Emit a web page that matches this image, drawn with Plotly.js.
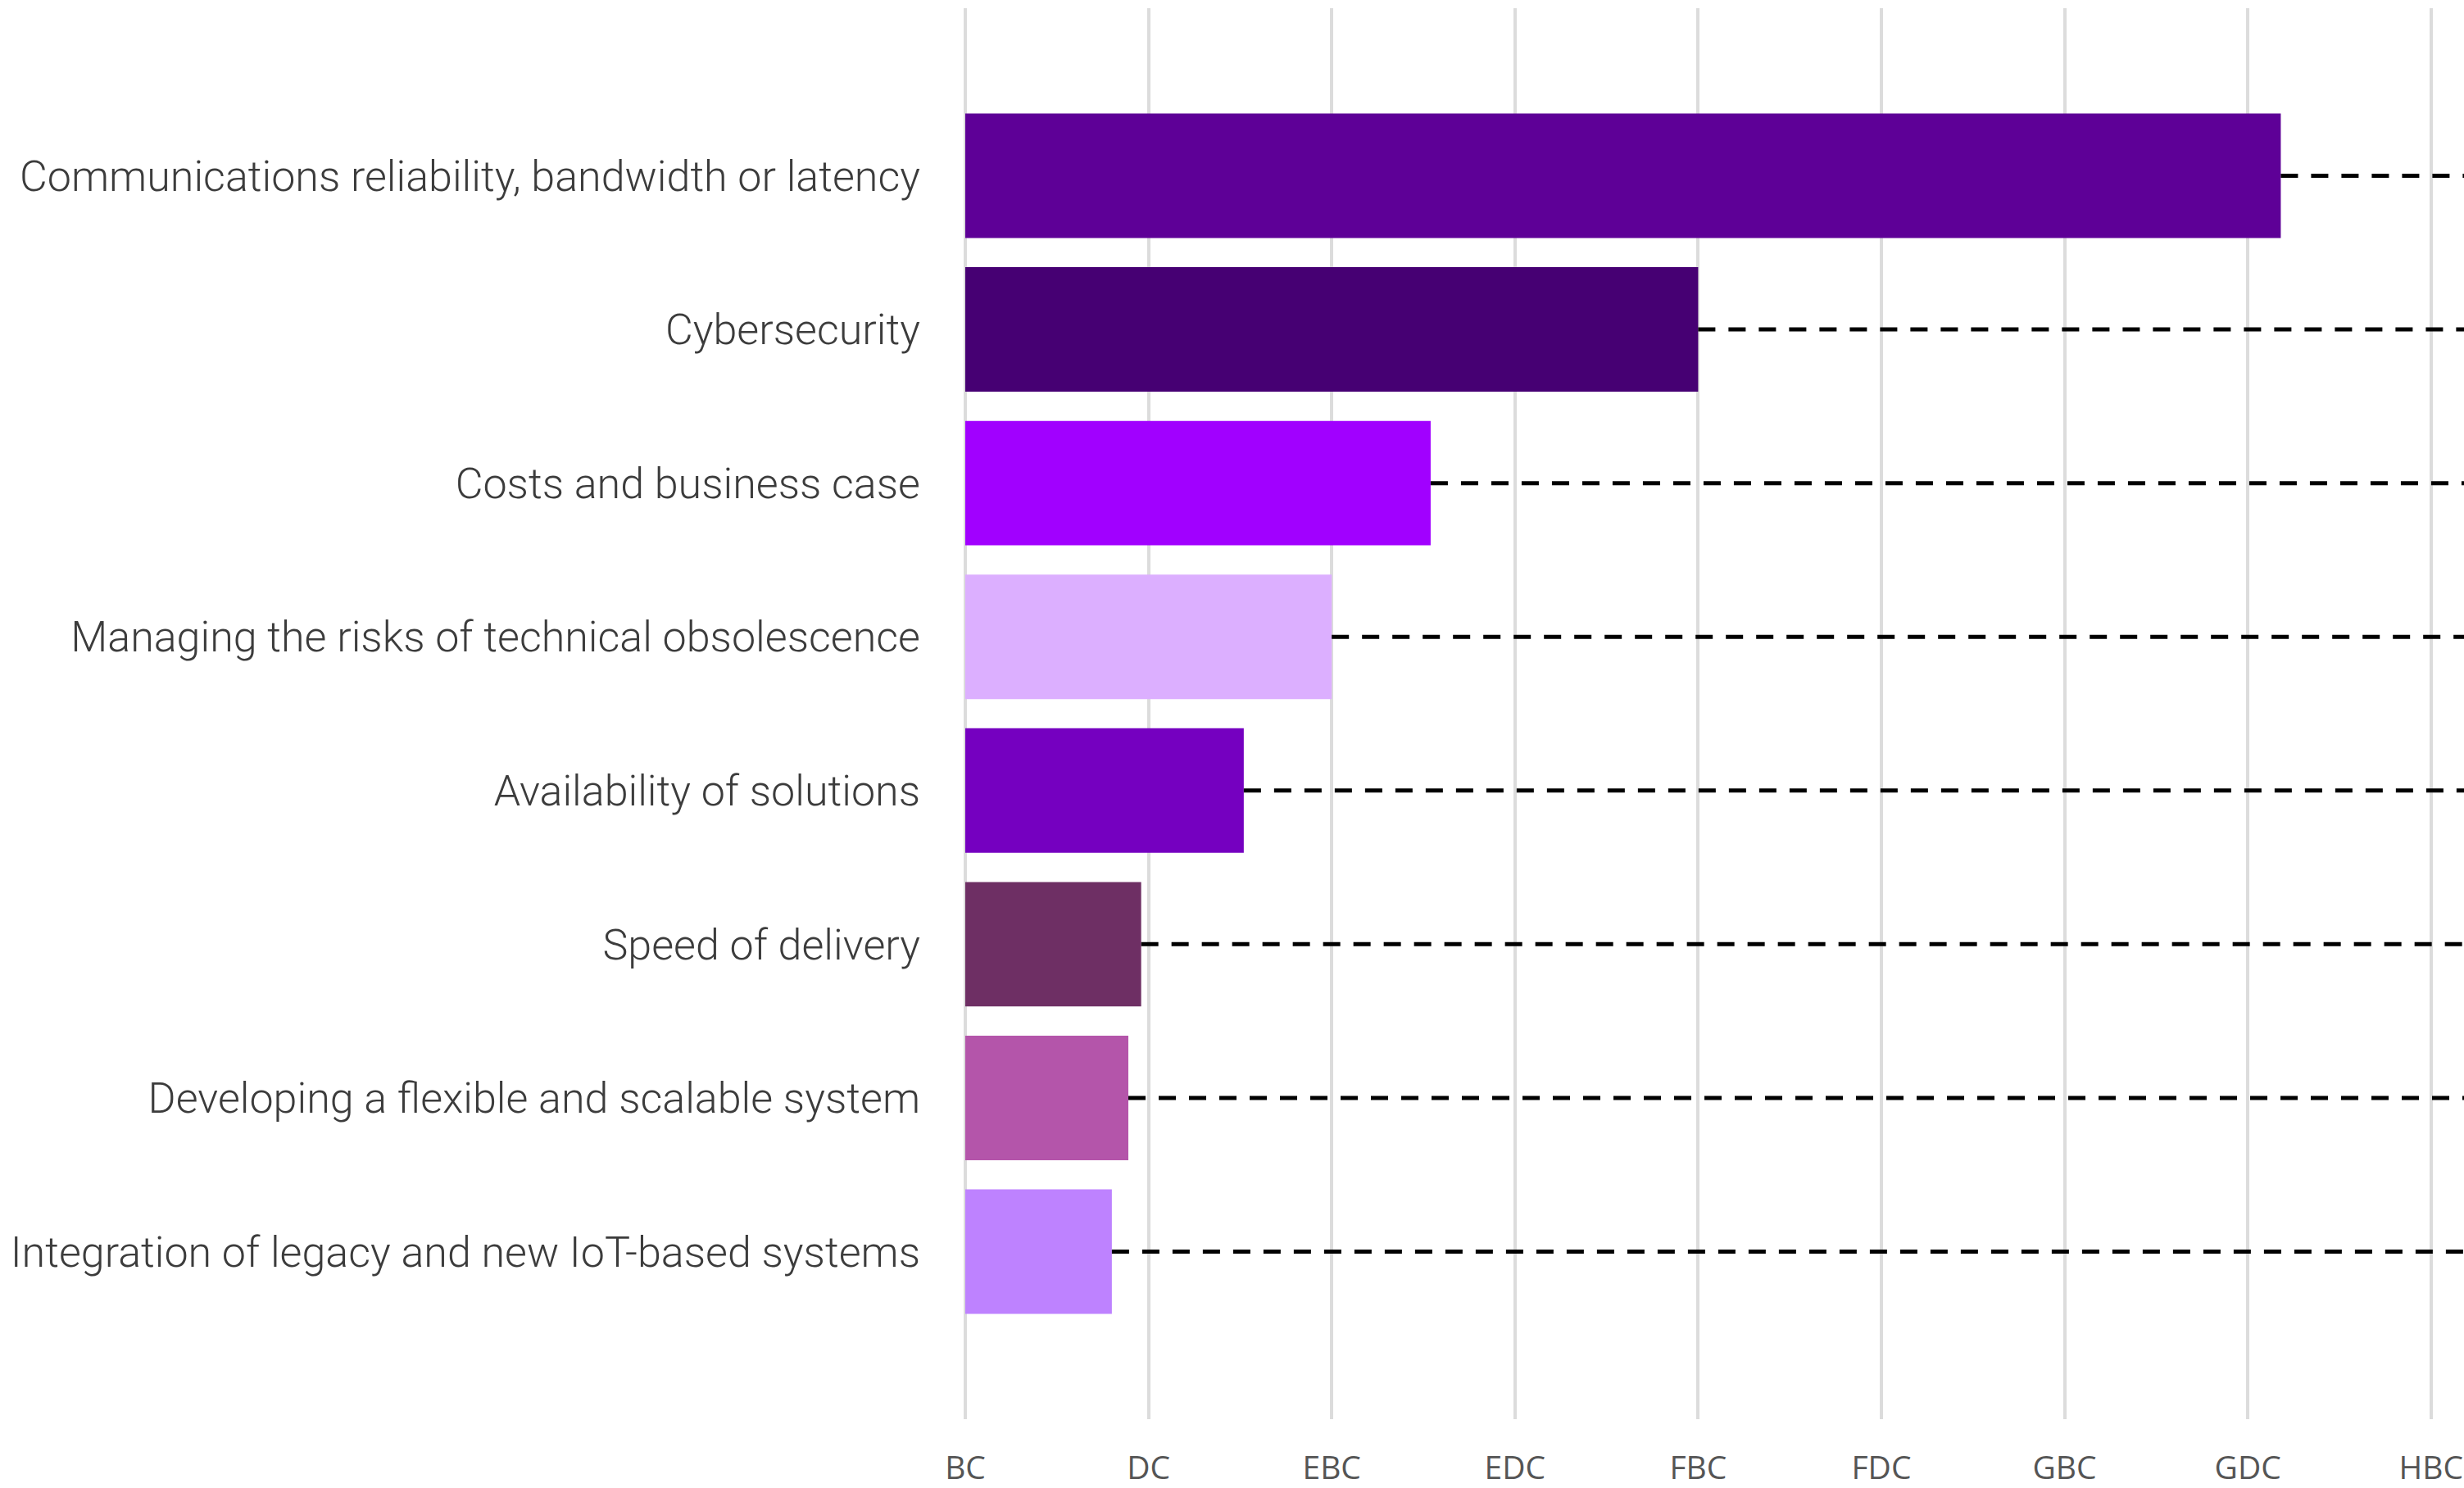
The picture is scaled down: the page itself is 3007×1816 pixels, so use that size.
<!DOCTYPE html>
<html>
<head>
<meta charset="utf-8">
<script src="https://cdn.plot.ly/plotly-3.0.1.min.js"></script>
<style>
  html, body { margin: 0; padding: 0; background: #ffffff; }
  #chart { width: 3007px; height: 1816px; }
</style>
</head>
<body>
<div id="chart"></div>
<script>
const categories = [
  "Communications reliability, bandwidth or latency",
  "Cybersecurity",
  "Costs and business case",
  "Managing the risks of technical obsolescence",
  "Availability of solutions",
  "Speed of delivery",
  "Developing a flexible and scalable system",
  "Integration of legacy and new IoT-based systems"
];
const values = [35.9, 20.0, 12.7, 10.0, 7.6, 4.8, 4.45, 4.0];
const tickValues = [0, 5, 10, 15, 20, 25, 30, 35, 40];
const tickLabels = ["BC", "DC", "EBC", "EDC", "FBC", "FDC", "GBC", "GDC", "HBC"];
const barColors = ["#5E0097", "#460073", "#A100FF", "#DCAFFF", "#7500C0", "#6E2F64", "#B455AA", "#BE82FF"];

const xMax = 40.9;

// dashed reference lines from each bar end to the right edge
const dashX = [], dashY = [];
categories.forEach((c, i) => {
  dashX.push(values[i], xMax, null);
  dashY.push(c, c, null);
});

const traces = [
  {
    type: "bar",
    orientation: "h",
    x: values,
    y: categories,
    marker: { color: barColors, line: { width: 0 } },
    hoverinfo: "x+y",
    showlegend: false
  },
  {
    type: "scatter",
    mode: "lines",
    x: dashX,
    y: dashY,
    line: { color: "#000000", width: 5, dash: "21px,16px" },
    hoverinfo: "skip",
    showlegend: false,
    cliponaxis: false
  }
];

const layout = {
  width: 3007,
  height: 1816,
  paper_bgcolor: "#ffffff",
  plot_bgcolor: "#ffffff",
  margin: { l: 1178, r: 0, t: 10, b: 84, pad: 0 },
  bargap: 0.19,
  showlegend: false,
  xaxis: {
    range: [0, xMax],
    tickmode: "array",
    tickvals: tickValues,
    ticktext: tickLabels,
    showgrid: true,
    gridcolor: "#dcdcdc",
    gridwidth: 4,
    zeroline: true,
    zerolinecolor: "#dcdcdc",
    zerolinewidth: 4,
    showline: false,
    ticks: "",
    ticklabelstandoff: 33,
    ticklabeloverflow: "allow",
    tickfont: { family: "Open Sans", size: 39, color: "#555555" },
    fixedrange: true
  },
  yaxis: {
    type: "category",
    categoryorder: "array",
    categoryarray: categories,
    range: [8.09, -1.09],
    showgrid: false,
    zeroline: false,
    showline: false,
    ticks: "",
    ticklabelstandoff: 54,
    tickfont: { family: "Roboto", size: 52, weight: 300, color: "#3c3c3c" },
    fixedrange: true
  }
};

Plotly.newPlot("chart", traces, layout, { displayModeBar: false, staticPlot: true });
</script>
</body>
</html>
